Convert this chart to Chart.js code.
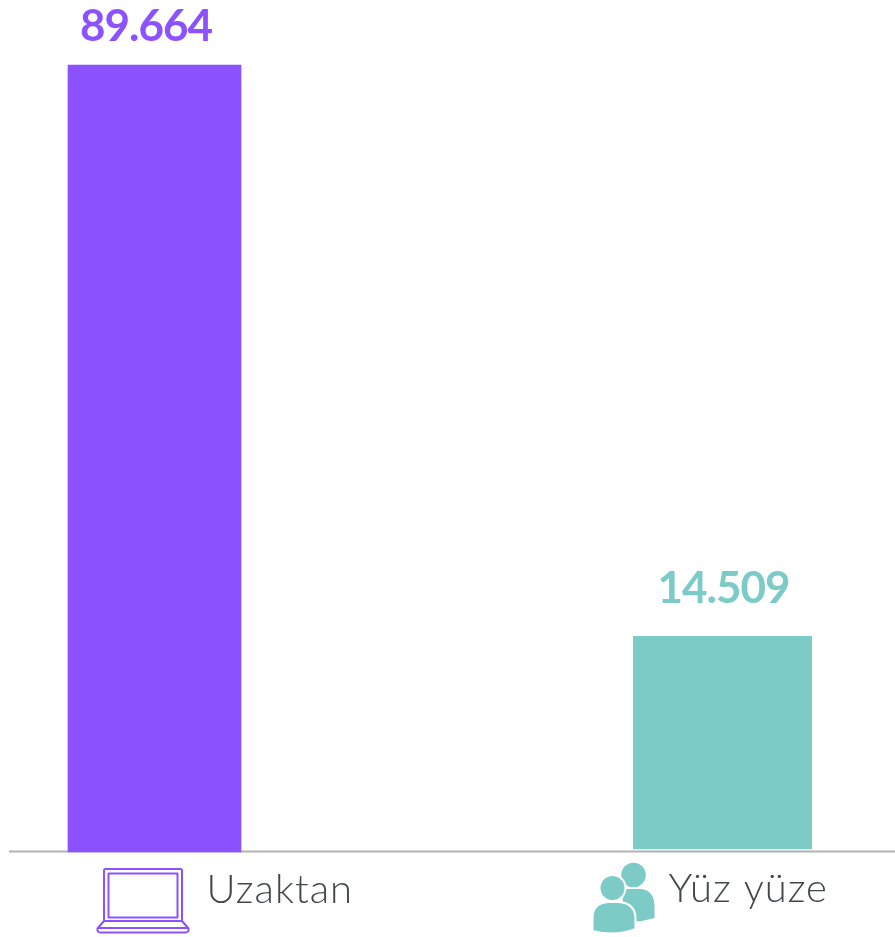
<!DOCTYPE html>
<html lang="tr">
<head>
<meta charset="utf-8">
<title>Uzaktan / Yüz yüze</title>
<script src="https://cdn.jsdelivr.net/npm/chart.js@4"></script>
<style>
    html, body { margin: 0; padding: 0; background: #fff; }
    canvas { display: block; }
</style>
</head>
<body>
<canvas id="chart" width="895" height="937"></canvas>
<script>
const categories = ['Uzaktan', 'Yüz yüze'];
const uzaktanValues = [89664, null];
const yuzYuzeValues = [null, 14509];
const valueLabels = ['89.664', '14.509'];

const PURPLE = '#8C52FF';
const TEAL = '#7CCBC7';
const TEXT = '#43474A';

// The printed values are not to linear scale in the picture, a hidden log axis reproduces the bar heights
const AXIS_MIN = 7285;
const AXIS_MAX = 89664;

function drawLaptop(ctx, x, y) {
    ctx.save();
    ctx.translate(x, y);
    ctx.strokeStyle = PURPLE;
    ctx.lineWidth = 2;
    ctx.lineJoin = 'round';
    ctx.beginPath();
    ctx.moveTo(7.5, 53);
    ctx.lineTo(7.5, 2.5);
    ctx.quadraticCurveTo(7.5, 1, 9, 1);
    ctx.lineTo(84, 1);
    ctx.quadraticCurveTo(85.5, 1, 85.5, 2.5);
    ctx.lineTo(85.5, 53);
    ctx.stroke();
    ctx.strokeRect(12, 5.5, 69, 44);
    ctx.beginPath();
    ctx.moveTo(7.5, 53);
    ctx.lineTo(85.5, 53);
    ctx.lineTo(92, 60.5);
    ctx.quadraticCurveTo(92.5, 64.5, 89, 64.5);
    ctx.lineTo(4, 64.5);
    ctx.quadraticCurveTo(0.5, 64.5, 1, 60.5);
    ctx.closePath();
    ctx.stroke();
    ctx.beginPath();
    ctx.moveTo(1, 60);
    ctx.lineTo(92, 60);
    ctx.stroke();
    ctx.restore();
}

function drawPeople(ctx, x, y) {
    ctx.save();
    ctx.translate(x, y);
    ctx.fillStyle = TEAL;
    // person at the back
    ctx.beginPath();
    ctx.arc(41, 12, 12.3, 0, Math.PI * 2);
    ctx.fill();
    ctx.beginPath();
    ctx.moveTo(31, 26);
    ctx.lineTo(48, 26);
    ctx.quadraticCurveTo(62, 27, 62, 44);
    ctx.lineTo(62, 55);
    ctx.quadraticCurveTo(52, 58, 40, 59);
    ctx.lineTo(30, 40);
    ctx.closePath();
    ctx.fill();
    // person in front, white outline cuts it out of the back one
    ctx.strokeStyle = '#fff';
    ctx.lineWidth = 2;
    ctx.beginPath();
    ctx.arc(20, 25, 13, 0, Math.PI * 2);
    ctx.fill();
    ctx.stroke();
    ctx.beginPath();
    ctx.moveTo(0, 63);
    ctx.lineTo(0, 55);
    ctx.quadraticCurveTo(0, 40, 16, 39);
    ctx.lineTo(26, 39);
    ctx.quadraticCurveTo(43, 40, 43, 56);
    ctx.lineTo(43, 66);
    ctx.quadraticCurveTo(22, 74, 0, 68);
    ctx.closePath();
    ctx.fill();
    ctx.stroke();
    ctx.restore();
}

// Datasets draw last to first: the line goes over the teal bar's white foot and under the purple bar
const axisLinePlugin = {
    id: 'axisLine',
    afterDatasetDraw(chart, args) {
        if (args.index !== 1) return;
        const ctx = chart.ctx;
        ctx.save();
        ctx.strokeStyle = '#B2B2B2';
        ctx.lineWidth = 2;
        ctx.beginPath();
        ctx.moveTo(9, chart.chartArea.bottom - 0.5);
        ctx.lineTo(chart.width, chart.chartArea.bottom - 0.5);
        ctx.stroke();
        ctx.restore();
    }
};

const labelsPlugin = {
    id: 'labels',
    afterDatasetsDraw(chart) {
        const ctx = chart.ctx;
        const bottom = chart.chartArea.bottom;
        const purpleBar = chart.getDatasetMeta(0).data[0];
        const tealBar = chart.getDatasetMeta(1).data[1];

        ctx.save();
        ctx.textAlign = 'center';
        ctx.textBaseline = 'alphabetic';
        ctx.font = 'bold 44px Lato';
        ctx.letterSpacing = '-1px';
        ctx.fillStyle = PURPLE;
        ctx.fillText(valueLabels[0], purpleBar.x - 8.5, purpleBar.y - 24);
        ctx.fillStyle = TEAL;
        ctx.fillText(valueLabels[1], tealBar.x + 1, tealBar.y - 33);

        ctx.textAlign = 'left';
        ctx.font = '300 40px Lato';
        ctx.letterSpacing = '1px';
        ctx.fillStyle = TEXT;
        ctx.fillText(categories[0], purpleBar.x + 52, bottom + 51);
        ctx.fillText(categories[1], tealBar.x - 54, bottom + 50);
        ctx.restore();

        drawLaptop(ctx, purpleBar.x - 58, bottom + 16);
        drawPeople(ctx, tealBar.x - 130, bottom + 11);
    }
};

new Chart(document.getElementById('chart').getContext('2d'), {
    type: 'bar',
    data: {
        labels: categories,
        datasets: [
            {
                label: categories[0],
                data: uzaktanValues,
                backgroundColor: PURPLE,
                barThickness: 173,
                grouped: false,
                clip: false
            },
            {
                label: categories[1],
                data: yuzYuzeValues,
                backgroundColor: TEAL,
                borderColor: '#fff',
                borderWidth: { top: 0, left: 0, right: 0, bottom: 3 },
                borderSkipped: false,
                barThickness: 179,
                grouped: false,
                clip: false
            }
        ]
    },
    options: {
        responsive: false,
        animation: false,
        layout: { padding: { left: 154.5, right: 172.5, top: 65, bottom: 85 } },
        plugins: { legend: { display: false }, tooltip: { enabled: false } },
        scales: {
            x: { display: false, offset: false, grid: { display: false } },
            y: {
                type: 'logarithmic',
                display: false,
                min: AXIS_MIN,
                max: AXIS_MAX,
                bounds: 'data',
                grid: { display: false }
            }
        }
    },
    plugins: [axisLinePlugin, labelsPlugin]
});
</script>
</body>
</html>
